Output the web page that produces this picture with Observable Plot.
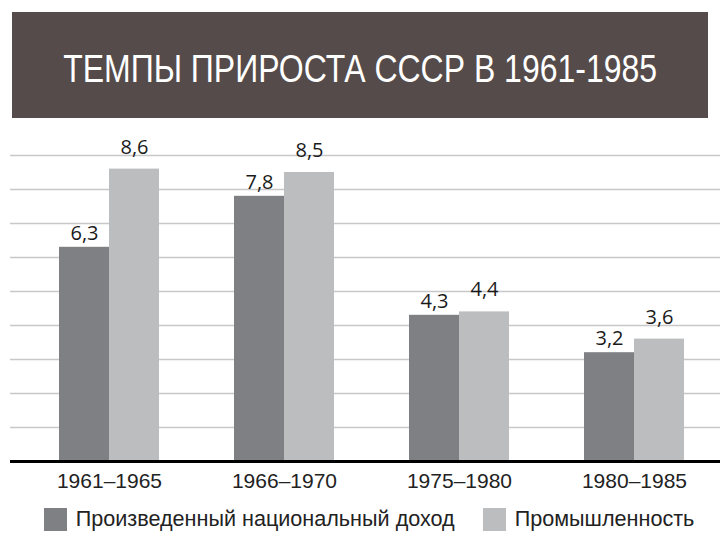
<!DOCTYPE html>
<html><head><meta charset="utf-8">
<script src="https://cdn.jsdelivr.net/npm/d3@7"></script>
<script src="https://cdn.jsdelivr.net/npm/@observablehq/plot@0.6"></script>
<style>
body{margin:0;width:720px;height:540px;background:#fff;position:relative;overflow:hidden;}
#banner{position:absolute;left:12px;top:12px;width:696px;height:106px;background:#554b4a;display:flex;align-items:center;justify-content:center;padding-top:8px;box-sizing:border-box;overflow:hidden;}
#title{color:#fff;font-family:"Liberation Sans",Arial,sans-serif;font-size:39px;white-space:nowrap;display:inline-block;transform:scaleX(0.82);transform-origin:center;}
#chart{position:absolute;left:0;top:125px;}
#legend{position:absolute;left:0;top:506px;width:720px;padding-left:18px;box-sizing:border-box;}
#legend .lg-swatches{font-family:"Liberation Sans",Arial,sans-serif;font-size:21.6px;color:#222;justify-content:center;margin:0;min-height:0;}
#legend .lg-swatch{margin-right:28px;}
#legend .lg-swatch:last-child{margin-right:0;}
#legend .lg-swatch svg{margin-right:9px;}
</style></head>
<body>
<div id="banner"><span id="title"></span></div>
<div id="chart"></div>
<div id="legend"></div>
<script>
const title = "ТЕМПЫ ПРИРОСТА СССР В 1961-1985";
const periods = ["1961–1965", "1966–1970", "1975–1980", "1980–1985"];
const seriesNames = ["Произведенный национальный доход", "Промышленность"];
const nationalIncome = [6.3, 7.8, 4.3, 3.2];
const industry = [8.6, 8.5, 4.4, 3.6];
const gridValues = [1, 2, 3, 4, 5, 6, 7, 8, 9];
const colors = ["#7f8083", "#bcbdbf"];

const fmt = v => String(v).replace(".", ",");
const incomeRows = periods.map((p, i) => ({period: p, series: seriesNames[0], value: nationalIncome[i]}));
const industryRows = periods.map((p, i) => ({period: p, series: seriesNames[1], value: industry[i]}));

document.getElementById("title").textContent = title;

const labelStyle = {fontFamily: "'Open Sans', sans-serif", fontSize: 20, fill: "#1a1a1a"};

const chart = Plot.plot({
  width: 720,
  height: 376,
  marginTop: 30,
  marginBottom: 40,
  marginLeft: 10,
  marginRight: 0,
  x: {domain: periods, paddingInner: 0.43, paddingOuter: 0.239, align: 0.576},
  y: {domain: [0, 9], axis: null},
  color: {domain: seriesNames, range: colors},
  style: {overflow: "visible", background: "transparent"},
  marks: [
    Plot.ruleY(gridValues, {stroke: "#c8c8c8", strokeWidth: 1.5}),
    Plot.barY(incomeRows, {x: "period", y: "value", fill: "series", insetRight: 50}),
    Plot.barY(industryRows, {x: "period", y: "value", fill: "series", insetLeft: 50}),
    Plot.ruleY([0], {stroke: "#000", strokeWidth: 3}),
    Plot.text(incomeRows, {x: "period", y: "value", text: d => fmt(d.value), dx: -25, dy: -14, ...labelStyle}),
    Plot.text(industryRows, {x: "period", y: "value", text: d => fmt(d.value), dx: 25, dy: -22, ...labelStyle}),
    Plot.axisX({tickSize: 0, tickPadding: 12, label: null, fontSize: 21, fontFamily: "'Liberation Sans', Arial, sans-serif", fill: "#222"})
  ]
});
document.getElementById("chart").appendChild(chart);

const legend = Plot.legend({
  color: {domain: seriesNames, range: colors},
  legend: "swatches",
  swatchWidth: 23,
  swatchHeight: 23,
  className: "lg"
});
document.getElementById("legend").appendChild(legend);
</script>
</body></html>
